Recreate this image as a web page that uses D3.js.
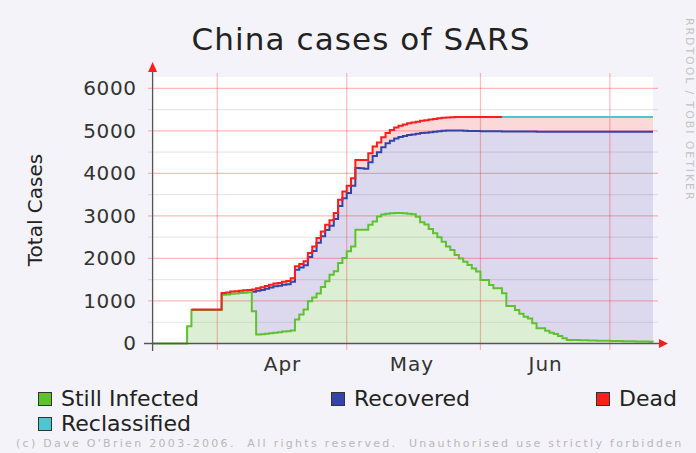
<!DOCTYPE html>
<html>
<head>
<meta charset="utf-8">
<script src="https://cdn.jsdelivr.net/npm/d3@7"></script>
<style>
  body { margin: 0; background: #f4f3f9; }
  text { font-family: "DejaVu Sans", Verdana, sans-serif; }
</style>
</head>
<body>
<svg id="chart"></svg>
<script>
// daily values, first day = startDate
const startDate = "2003-03-17";
const seriesNames = ["Still Infected", "Recovered", "Dead", "Reclassified"];

const infected = [0,0,0,0,0,0,0,0,406,788,788,788,788,788,788,788,
  1144,1153,1169,1177,1187,1195,1205,760,211,220,230,240,255,265,280,290,305,
  563,680,798,993,1079,1173,1330,1462,1619,1696,1893,2011,2166,2283,
  2675,2675,2675,2792,2870,2987,3030,3050,3060,3070,3070,3060,3050,3040,
  2980,2850,2795,2690,2590,2500,2395,2280,2200,2080,
  2000,1920,1845,1765,1690,1493,1493,1375,1298,1298,
  1180,882,882,788,700,630,590,475,357,357,
  300,254,223,176,122,82,82,80,78,75,
  72,70,66,64,62,60,59,57,55,53,
  51,49,47,45,43,42];

const recovered = [0,0,0,0,0,0,0,0,0,0,0,0,0,0,0,0,
  0,0,0,0,0,0,0,454,1027,1039,1056,1075,1089,1093,1101,1101,1149,
  1173,1104,1041,1038,1095,1197,1190,1208,1150,1231,1338,1403,1375,1423,
  1452,1445,1436,1468,1541,1512,1585,1660,1709,1748,1783,1819,1852,1873,
  1953,2101,2161,2279,2390,2493,2605,2728,2807,2930,
  3006,3082,3154,3231,3305,3500,3499,3615,3692,3690,
  3807,4104,4102,4196,4283,4353,4392,4507,4624,4624,
  4680,4726,4757,4803,4857,4897,4897,4899,4901,4904,
  4907,4909,4913,4915,4917,4919,4920,4922,4924,4926,
  4928,4930,4932,4934,4936,4937];

const dead = [0,0,0,0,0,0,0,0,0,10,10,10,10,10,10,10,
  46,47,51,53,53,55,55,56,60,61,64,65,66,67,69,79,79,
  79,86,92,97,106,110,115,122,131,139,148,159,166,181,
  190,197,206,214,219,224,235,240,252,262,267,271,275,282,
  282,289,294,296,300,303,305,307,315,317,
  321,325,328,331,332,334,335,337,337,339,
  340,341,343,343,344,344,345,345,346,346,
  347,347,347,348,348,348,348,348,348,348,
  348,348,348,348,348,348,348,348,348,348,
  348,348,348,348,348,348];

// reclassified only reported from this day on
const reclassStart = "2003-06-06";
const reclassified = [0,0,0,0,0,0,0,0,0,0,0,0,0,0,0,0,0,0,
  0,0,0,0,0,0,0,0,0,0,0,0,0,0,0,0,0,0];

const yTicks     = [0, 1000, 2000, 3000, 4000, 5000, 6000];
const yMinor     = [500, 1500, 2500, 3500, 4500, 5500];
const monthStart = ["2003-04-01", "2003-05-01", "2003-06-01", "2003-07-01"];
const monthMid   = ["2003-04-16", "2003-05-16", "2003-06-16"];

let W = 696, H = 453,
    pLeft = 152.6, pRight = 653, pTop = 77, pBottom = 343.5,
    parse = d3.timeParse("%Y-%m-%d"),
    t0 = parse(startDate),
    tR = parse(reclassStart),
    fills  = ["#dcefd5", "#dcd9ef", "#fcd9d9"],
    colors = ["#5fc130", "#3343a6", "#ff1c1c", "#4cc6cf"],
    gridRed  = "rgba(255,0,0,0.27)",
    gridGray = "rgba(0,0,0,0.09)";

let rows = infected.map((v, i) => {
  let date = d3.timeDay.offset(t0, i),
      r = d3.timeDay.count(tR, date);
  return {date: date, infected: v, recovered: recovered[i], dead: dead[i],
          reclassified: r >= 0 ? reclassified[r] : null};
});

let x = d3.scaleTime().domain([t0, rows[rows.length - 1].date]).range([pLeft, pRight]),
    y = d3.scaleLinear().domain([0, 6000]).range([pBottom, 88.3]);

let keys = ["infected", "recovered", "dead", "reclassified"],
    series = d3.stack().keys(keys).value((d, k) => d[k] == null ? 0 : d[k])(rows);

let svg = d3.select("#chart").attr("width", W).attr("height", H);
svg.append("rect").attr("width", W).attr("height", H).attr("fill", "#f4f3f9");
svg.append("rect").attr("x", pLeft).attr("y", pTop)
  .attr("width", pRight - pLeft).attr("height", pBottom - pTop).attr("fill", "#fff");

// stacked areas
let area = d3.area().curve(d3.curveStepAfter)
  .x(d => x(d.data.date)).y0(d => y(d[0])).y1(d => y(d[1]));
svg.selectAll(".area").data(series.slice(0, 3)).enter().append("path")
  .attr("d", area).attr("fill", (d, i) => fills[i]);

// grid on top of the fills
svg.selectAll(".minor").data(yMinor).enter().append("line")
  .attr("x1", 148).attr("x2", 658).attr("y1", d => y(d)).attr("y2", d => y(d))
  .attr("stroke", gridGray).attr("stroke-width", 1.2);
svg.selectAll(".major").data(yTicks.slice(1)).enter().append("line")
  .attr("x1", 148).attr("x2", 658).attr("y1", d => y(d)).attr("y2", d => y(d))
  .attr("stroke", gridRed).attr("stroke-width", 1.2);
svg.selectAll(".vgrid").data(monthStart).enter().append("line")
  .attr("x1", d => x(parse(d))).attr("x2", d => x(parse(d)))
  .attr("y1", 73).attr("y2", 350)
  .attr("stroke", gridRed).attr("stroke-width", 1.2);

// lines: blue, green, red, cyan (only drawn where the series has data)
let lineFor = key => d3.line().curve(d3.curveStepAfter)
  .defined(d => d.data[key] != null && (key === "infected" || d.data[key] > 0 || key === "reclassified"))
  .x(d => x(d.data.date)).y(d => y(d[1]));
[1, 0, 2, 3].forEach(i => {
  svg.append("path").attr("d", lineFor(keys[i])(series[i]))
    .attr("fill", "none").attr("stroke", colors[i]).attr("stroke-width", 2);
});

// axes with arrows
svg.append("line").attr("x1", 144).attr("x2", 661).attr("y1", pBottom).attr("y2", pBottom)
  .attr("stroke", "#555").attr("stroke-width", 1.3);
svg.append("line").attr("x1", pLeft).attr("x2", pLeft).attr("y1", 351).attr("y2", 70)
  .attr("stroke", "#555").attr("stroke-width", 1.3);
svg.append("path").attr("d", `M${pLeft},62 L${pLeft - 4.5},72 L${pLeft + 4.5},72 Z`).attr("fill", "#ff1c1c");
svg.append("path").attr("d", `M668,${pBottom} L659,${pBottom - 4.5} L659,${pBottom + 4.5} Z`).attr("fill", "#ff1c1c");

// tick labels
let yAxis = svg.append("g").attr("transform", `translate(${pLeft},0)`)
  .call(d3.axisLeft(y).tickValues(yTicks).tickFormat(d3.format("d"))
    .tickSize(0).tickPadding(16));
yAxis.select(".domain").remove();
yAxis.selectAll("text").attr("font-size", 20).attr("fill", "#333")
  .style("font-family", "DejaVu Sans").style("letter-spacing", "0.6px");

let xAxis = svg.append("g").attr("transform", `translate(0,${pBottom})`)
  .call(d3.axisBottom(x).tickValues(monthMid.map(parse))
    .tickFormat(d3.timeFormat("%b")).tickSize(0).tickPadding(13));
xAxis.select(".domain").remove();
xAxis.selectAll("text").attr("font-size", 20).attr("fill", "#333")
  .style("font-family", "DejaVu Sans").style("letter-spacing", "1px");

// titles
svg.append("text").attr("x", 361).attr("y", 50).attr("text-anchor", "middle")
  .attr("font-size", 31).attr("fill", "#222").style("letter-spacing", "1.1px")
  .text("China cases of SARS");
svg.append("text").attr("transform", "translate(42,210) rotate(-90)")
  .attr("text-anchor", "middle").attr("font-size", 20).attr("fill", "#222")
  .text("Total Cases");

// legend
let legendPos = [[38, 392], [331, 392], [596, 392], [38, 417]];
let legend = svg.selectAll(".legend").data(seriesNames).enter().append("g")
  .attr("transform", (d, i) => `translate(${legendPos[i][0]},${legendPos[i][1]})`);
legend.append("rect").attr("x", 0.5).attr("y", 0.5).attr("width", 13).attr("height", 13)
  .attr("fill", (d, i) => colors[i]).attr("stroke", "#333");
legend.append("text").attr("x", 23).attr("y", 14).attr("font-size", 22).attr("fill", "#222")
  .text(d => d);

// watermark + copyright
svg.append("text").attr("transform", "translate(686,18) rotate(90)")
  .attr("font-size", 11).attr("fill", "#c4c4c4").style("letter-spacing", "1.9px")
  .text("RRDTOOL / TOBI OETIKER");
svg.append("text").attr("x", 16).attr("y", 447)
  .attr("font-size", 11).attr("fill", "#b8b8b8").style("letter-spacing", "2.3px")
  .attr("xml:space", "preserve")
  .text("(c) Dave O'Brien 2003-2006.  All rights reserved.  Unauthorised use strictly forbidden");
</script>
</body>
</html>
